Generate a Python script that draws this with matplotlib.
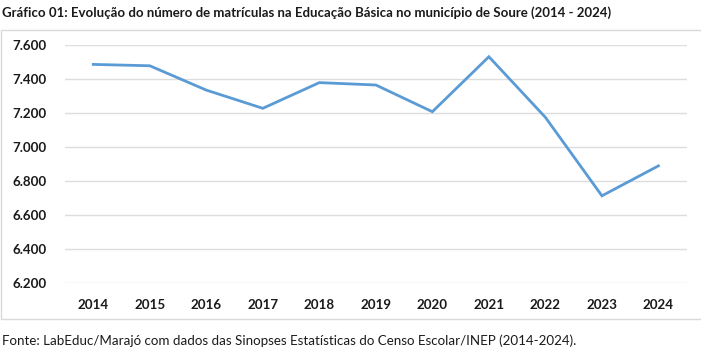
import matplotlib
matplotlib.use("Agg")
import matplotlib.pyplot as plt
from matplotlib.patches import Rectangle
from matplotlib.ticker import FuncFormatter

# Matrículas na Educação Básica - Soure
anos = ["2014", "2015", "2016", "2017", "2018", "2019", "2020", "2021", "2022", "2023", "2024"]
matriculas = [7486, 7478, 7335, 7228, 7379, 7365, 7208, 7531, 7175, 6714, 6890]
y_ticks = [6200, 6400, 6600, 6800, 7000, 7200, 7400, 7600]

titulo = "Gráfico 01: Evolução do número de matrículas na Educação Básica no município de Soure (2014 - 2024)"
fonte = "Fonte: LabEduc/Marajó com dados das Sinopses Estatísticas do Censo Escolar/INEP (2014-2024)."

plt.rcParams["font.family"] = ["Lato", "DejaVu Sans"]

W, H = 701, 349
fig = plt.figure(figsize=(W / 100, H / 100), dpi=100)

# chart frame
fig.patches.append(Rectangle((1 / W, 1 - 319 / H), 702 / W, (319 - 29.5) / H,
                             transform=fig.transFigure, fill=False,
                             edgecolor="#D9D9D9", linewidth=1.0))

left, right = 65 / W, 686.7 / W
bottom, top = 1 - 283.3 / H, 1 - 45 / H
ax = fig.add_axes([left, bottom, right - left, top - bottom])

x = list(range(len(anos)))
ax.plot(x, matriculas, color="#5B9BD5", linewidth=2.0, solid_joinstyle="miter")

ax.set_xlim(-0.5, len(anos) - 0.5)
ax.set_ylim(y_ticks[0], y_ticks[-1])
ax.set_yticks(y_ticks)
ax.yaxis.set_major_formatter(FuncFormatter(lambda v, p: f"{int(v):,}".replace(",", ".")))
ax.set_xticks(x)
ax.set_xticklabels(anos)

for lbl in ax.get_xticklabels() + ax.get_yticklabels():
    lbl.set_fontweight("bold")
    lbl.set_fontsize(9.6)
    lbl.set_color("#1a1a1a")

ax.tick_params(axis="both", length=0)
ax.tick_params(axis="x", pad=11)
ax.tick_params(axis="y", pad=13)
ax.grid(axis="y", color="#DDDDDD", linewidth=1.0)
ax.set_axisbelow(True)
for s in ax.spines.values():
    s.set_visible(False)

fig.text(2 / W, 1 - 13 / H, titulo, fontsize=9.5, fontweight="bold",
         ha="left", va="center", color="#1a1a1a")
fig.text(2 / W, 1 - 341 / H, fonte, fontsize=9.63, ha="left", va="center",
         color="#1a1a1a")

fig.savefig("out.png", dpi=100)
